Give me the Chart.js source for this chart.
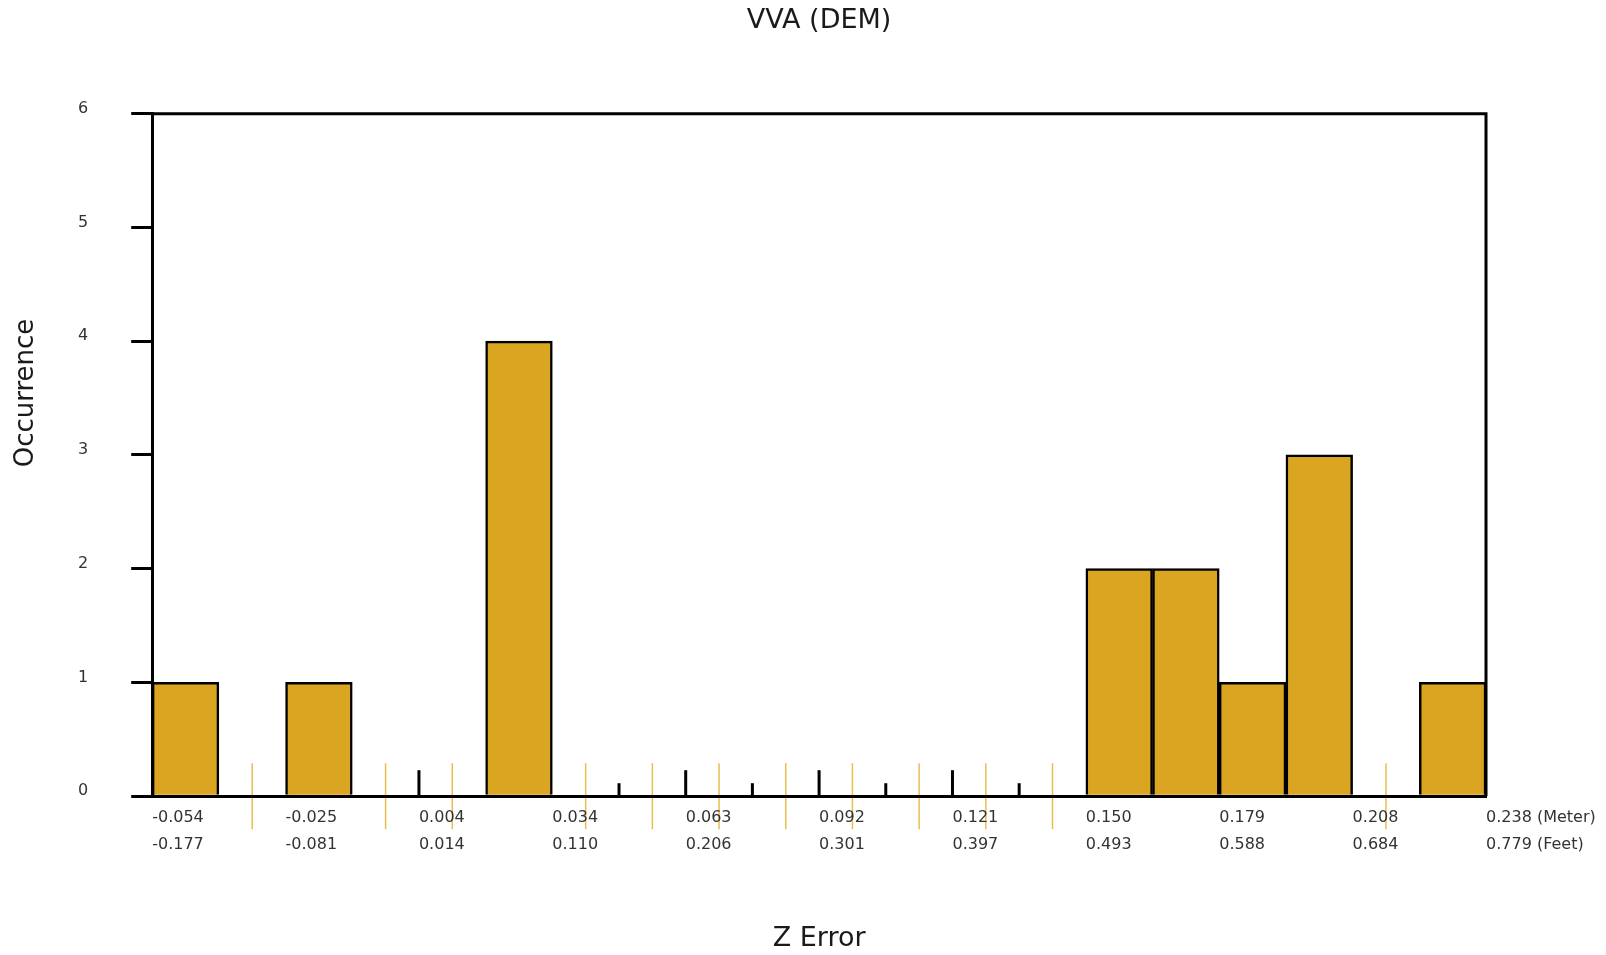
<!DOCTYPE html>
<html>
<head>
<meta charset="utf-8">
<title>VVA (DEM)</title>
<script src="https://cdn.jsdelivr.net/npm/chart.js@4.4.0/dist/chart.umd.min.js"></script>
<style>
    html, body { margin: 0; padding: 0; background: #fff; }
    #wrap { width: 1606px; height: 955px; }
</style>
</head>
<body>
<div id="wrap"><canvas id="histChart" width="1606" height="955"></canvas></div>
<script>
// chart texts
const chartTitle = 'VVA (DEM)';
const xTitle = 'Z Error';
const yTitle = 'Occurrence';

// occurrences per bin (20 bins)
const binCounts = [1, 0, 1, 0, 0, 4, 0, 0, 0, 0, 0, 0, 0, 0, 2, 2, 1, 3, 0, 1];

// labels at every second bin edge
const meterLabels = ['-0.054', '-0.025', '0.004', '0.034', '0.063', '0.092', '0.121', '0.150', '0.179', '0.208', '0.238 (Meter)'];
const feetLabels = ['-0.177', '-0.081', '0.014', '0.110', '0.206', '0.301', '0.397', '0.493', '0.588', '0.684', '0.779 (Feet)'];

const yMax = 6;

const FONT = 'DejaVu Sans';
const BAR_COLOR = '#DAA520';
const EMPTY_BIN_COLOR = 'rgba(232, 178, 50, 0.85)';

// edge ticks, empty-bin markers, frame and y title
const histDecor = {
    id: 'histDecor',
    beforeDraw(chart) {
        const { ctx, scales: { x, y } } = chart;
        const base = y.getPixelForValue(0);
        ctx.save();

        // markers for empty bins
        ctx.strokeStyle = EMPTY_BIN_COLOR;
        ctx.lineWidth = 1.5;
        binCounts.forEach((count, i) => {
            if (count !== 0) return;
            const px = x.getPixelForValue(i + 0.5);
            ctx.beginPath();
            ctx.moveTo(px, base - 33);
            ctx.lineTo(px, base + 33);
            ctx.stroke();
        });

        // inward ticks on bin edges not covered by a bar
        ctx.strokeStyle = '#000';
        ctx.lineWidth = 3;
        for (let i = 0; i <= binCounts.length; i++) {
            if (binCounts[i - 1] > 0 || binCounts[i] > 0) continue;
            const px = x.getPixelForValue(i);
            const len = i % 2 === 0 ? 26 : 13;
            ctx.beginPath();
            ctx.moveTo(px, base);
            ctx.lineTo(px, base - len);
            ctx.stroke();
        }
        ctx.restore();
    },
    afterDatasetsDraw(chart) {
        const { ctx, scales: { x, y } } = chart;
        const left = x.getPixelForValue(0);
        const right = x.getPixelForValue(binCounts.length);
        const top = y.getPixelForValue(yMax);
        const bottom = y.getPixelForValue(0);
        ctx.save();
        ctx.strokeStyle = '#000';
        ctx.lineWidth = 3;
        ctx.beginPath();
        ctx.moveTo(left, top);
        ctx.lineTo(right, top);
        ctx.lineTo(right, bottom);
        ctx.stroke();
        ctx.restore();
    },
    afterDraw(chart) {
        const { ctx } = chart;
        ctx.save();
        ctx.translate(26, 393);
        ctx.rotate(-Math.PI / 2);
        ctx.fillStyle = '#1a1a1a';
        ctx.font = `26px "${FONT}"`;
        ctx.textAlign = 'center';
        ctx.textBaseline = 'middle';
        ctx.fillText(yTitle, 0, 0);
        ctx.restore();
    }
};

// build histogram
function createHistogram() {
    const ctx = document.getElementById('histChart').getContext('2d');

    const points = [];
    binCounts.forEach((count, i) => {
        if (count > 0) points.push({ x: i + 0.5, y: count });
    });

    return new Chart(ctx, {
        type: 'bar',
        data: {
            datasets: [{
                data: points,
                backgroundColor: BAR_COLOR,
                borderColor: '#000',
                borderWidth: 2.5,
                borderSkipped: 'start',
                barPercentage: 1,
                categoryPercentage: 1
            }]
        },
        options: {
            responsive: false,
            animation: false,
            layout: {
                padding: { left: 35, right: 120, top: 0, bottom: 0 }
            },
            plugins: {
                legend: { display: false },
                tooltip: { enabled: false },
                title: {
                    display: true,
                    text: chartTitle,
                    fullSize: false,
                    color: '#1a1a1a',
                    font: { family: FONT, size: 27, weight: 'normal' },
                    padding: { top: 5, bottom: 76.3 }
                }
            },
            scales: {
                x: {
                    type: 'linear',
                    min: 0,
                    max: binCounts.length,
                    offset: false,
                    grid: { display: true, offset: false, drawOnChartArea: false, drawTicks: false },
                    border: { display: true, color: '#000', width: 3 },
                    ticks: {
                        stepSize: 1,
                        autoSkip: false,
                        maxRotation: 0,
                        minRotation: 0,
                        align: 'start',
                        padding: 8,
                        color: '#333',
                        font: { family: FONT, size: 16, lineHeight: 1.7 },
                        callback: function(value) {
                            if (value % 2 !== 0) return '';
                            return [meterLabels[value / 2], feetLabels[value / 2]];
                        }
                    },
                    title: {
                        display: true,
                        text: xTitle,
                        color: '#1a1a1a',
                        font: { family: FONT, size: 27, weight: 'normal' },
                        padding: { top: 56, bottom: 0 }
                    }
                },
                y: {
                    min: 0,
                    max: yMax,
                    grid: { drawOnChartArea: false, drawTicks: true, tickLength: 21, color: '#000', lineWidth: 3 },
                    border: { color: '#000', width: 3 },
                    ticks: {
                        stepSize: 1,
                        padding: 43,
                        labelOffset: -5,
                        color: '#333',
                        font: { family: FONT, size: 16 }
                    }
                }
            }
        },
        plugins: [histDecor]
    });
}

document.addEventListener('DOMContentLoaded', () => {
    createHistogram();
});
</script>
</body>
</html>
